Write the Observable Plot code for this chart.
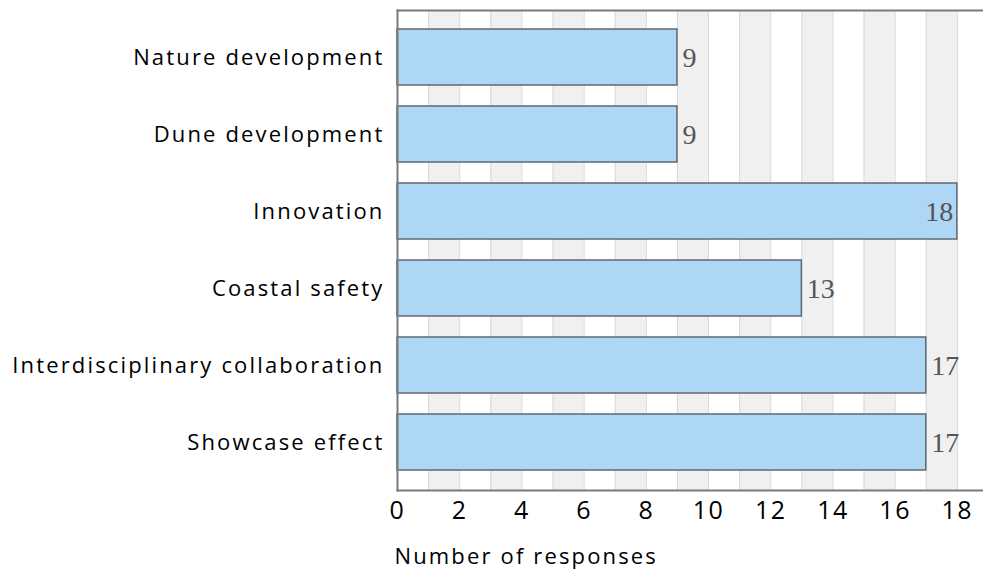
<!DOCTYPE html>
<html>
<head>
<meta charset="utf-8">
<script src="https://cdn.jsdelivr.net/npm/d3@7"></script>
<script src="https://cdn.jsdelivr.net/npm/@observablehq/plot@0.6"></script>
<style>
  html, body { margin: 0; padding: 0; background: #fff; }
  #chart svg { display: block; }
  #chart svg g[aria-label="y-axis tick label"] text,
  #chart svg g.xlabel text { letter-spacing: 2.15px; font-weight: 500; }
  #chart svg g[aria-label="x-axis tick label"] text { letter-spacing: 1.5px; font-weight: 500; }
</style>
</head>
<body>
<div id="chart"></div>
<script>
const categories = ["Nature development", "Dune development", "Innovation", "Coastal safety", "Interdisciplinary collaboration", "Showcase effect"];
const responses = [9, 9, 18, 13, 17, 17];
const xTicks = [0, 2, 4, 6, 8, 10, 12, 14, 16, 18];
const gridValues = [0, 1, 2, 3, 4, 5, 6, 7, 8, 9, 10, 11, 12, 13, 14, 15, 16, 17, 18];
const shadedBands = [1, 3, 5, 7, 9, 11, 13, 15, 17];
const xLabel = "Number of responses";

const data = categories.map((c, i) => ({category: c, value: responses[i]}));
const bands = shadedBands.map(s => ({start: s, end: s + 1}));
const valueFont = "'Liberation Serif', 'Cambria', serif";

const chart = Plot.plot({
  width: 983,
  height: 573,
  marginLeft: 397,
  marginRight: 0,
  marginTop: 10,
  marginBottom: 83,
  style: {fontFamily: "'Open Sans', sans-serif", color: "#000", background: "#fff"},
  x: {domain: [0, 18.84]},
  y: {domain: categories, paddingInner: 0.27, paddingOuter: 0.25},
  marks: [
    Plot.rect(bands, {x1: "start", x2: "end", fill: "#f0f0f0"}),
    Plot.ruleX(gridValues, {stroke: "#d9d9d9", strokeWidth: 1}),
    Plot.barX(data, {y: "category", x: "value", fill: "#aed6f5", stroke: "#5d6a74", strokeWidth: 1.5}),
    Plot.text(data.filter(d => d.value < 17.5), {y: "category", x: "value", text: d => String(d.value), textAnchor: "start", dx: 5, dy: 1, fill: "#555", fontSize: 28, fontFamily: valueFont}),
    Plot.text(data.filter(d => d.value >= 17.5), {y: "category", x: "value", text: d => String(d.value), textAnchor: "end", dx: -4, dy: 1, fill: "#555", fontSize: 28, fontFamily: valueFont}),
    Plot.frame({anchor: "top", stroke: "#7a7a7a", strokeWidth: 2}),
    Plot.frame({anchor: "left", stroke: "#7a7a7a", strokeWidth: 2}),
    Plot.frame({anchor: "bottom", stroke: "#7a7a7a", strokeWidth: 2}),
    Plot.axisY({tickSize: 0, tickPadding: 13, fontSize: 22, label: null}),
    Plot.axisX({ticks: xTicks, tickSize: 0, tickPadding: 11, fontSize: 25, tickFormat: d => String(d), label: null}),
    Plot.text([xLabel], {frameAnchor: "bottom-left", dx: -3, dy: 73, textAnchor: "start", fontSize: 22, fill: "#000", className: "xlabel"})
  ]
});
document.getElementById("chart").appendChild(chart);
</script>
</body>
</html>
